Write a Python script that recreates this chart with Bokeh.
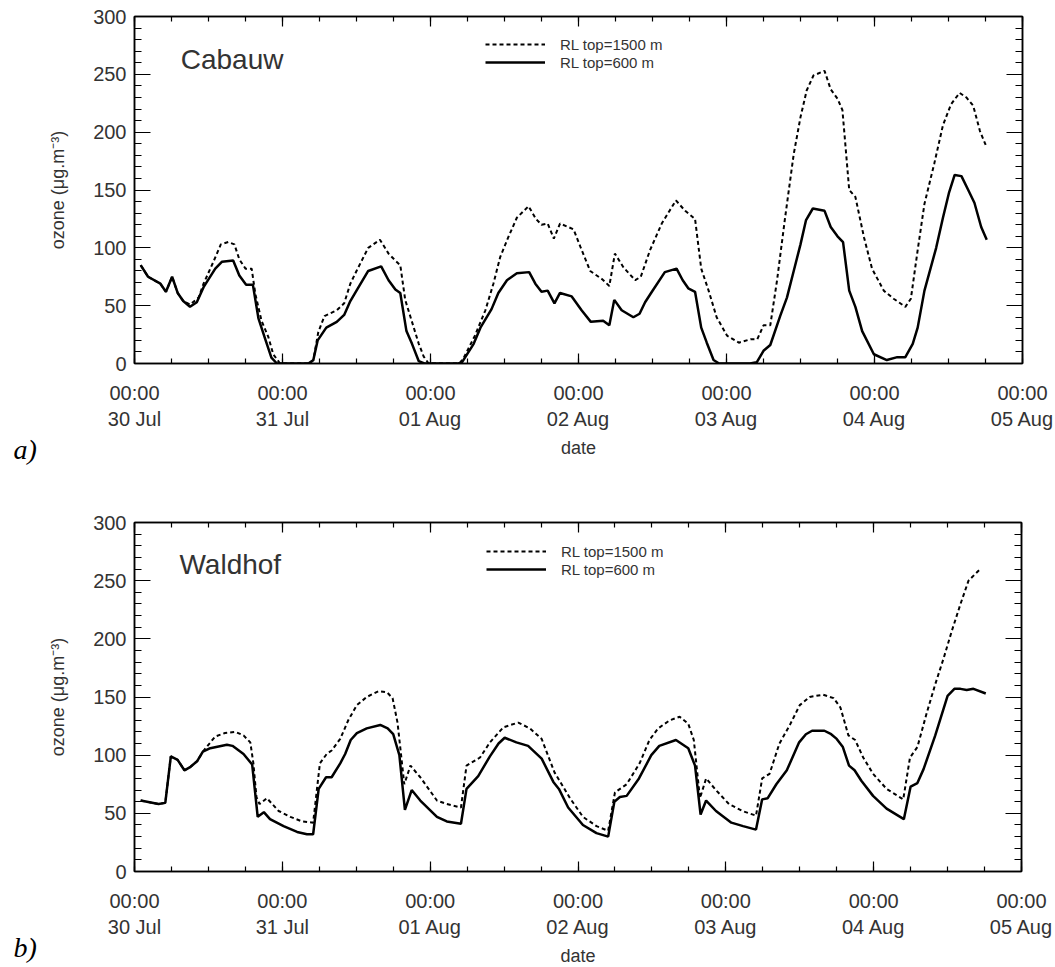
from bokeh.plotting import figure
from bokeh.models import (Range1d, FixedTicker, LinearAxis, Label, Legend, LegendItem,
                          CustomLabelingPolicy)
from bokeh.layouts import column
from bokeh.embed import file_html
from bokeh.resources import INLINE

# ---------------- data ----------------
day_labels = ["30 Jul", "31 Jul", "01 Aug", "02 Aug", "03 Aug", "04 Aug", "05 Aug"]
day_ticks = [0, 24, 48, 72, 96, 120, 144]          # hours since 30 Jul 00:00
y_ticks = [0, 50, 100, 150, 200, 250, 300]

# Cabauw, RL top = 600 m
cab600_t = [1.0, 2.2, 4.2, 5.1, 6.1, 7.0, 7.9, 9.0, 10.1, 11.2, 13.1, 14.2, 16.0, 17.0, 18.1, 19.2,
            20.1, 21.2, 22.2, 23.1, 28.2, 29.0, 29.7, 31.1, 32.8, 34.0, 35.0, 36.0, 37.9, 40.0, 41.2,
            42.3, 43.1, 44.1, 45.0, 46.1, 47.0, 52.5, 53.1, 55.0, 56.1, 57.9, 59.0, 60.4, 62.0, 64.0,
            65.0, 66.0, 67.0, 68.1, 69.0, 70.9, 72.5, 74.0, 76.0, 77.0, 77.8, 79.0, 80.9, 81.9, 82.8,
            83.9, 86.0, 87.9, 88.9, 89.8, 90.9, 91.9, 92.8, 93.9, 94.8, 99.8, 100.9, 102.0, 103.1,
            104.7, 105.8, 106.9, 108.0, 108.9, 110.0, 111.9, 112.9, 114.0, 114.9, 115.9, 116.9, 118.0,
            119.9, 122.0, 123.7, 125.0, 126.2, 127.0, 128.1, 130.0, 131.1, 132.1, 133.0, 134.1, 135.2,
            136.2, 137.3, 138.2]
cab600_v = [85, 75, 69, 62, 75, 61, 54, 49, 53, 66, 82, 88, 89, 76, 68, 68,
            39, 21, 5, 0, 0, 3, 20, 31, 36, 42, 54, 63, 80, 84, 72,
            64, 61, 28, 17, 2, 0, 0, 1, 17, 31, 47, 61, 72, 78, 79,
            69, 62, 63, 52, 61, 58, 46, 36, 37, 33, 55, 46, 40, 43, 53,
            62, 79, 82, 72, 65, 62, 31, 18, 3, 0, 0, 1, 11, 16,
            41, 57, 80, 103, 124, 134, 132, 118, 110, 105, 63, 49, 28,
            8, 3, 5.5, 5.5, 17, 31, 63, 100, 126, 148, 163, 162, 150,
            139, 118, 107]

# Cabauw, RL top = 1500 m
cab1500_t = [1.0, 2.2, 4.2, 5.1, 6.1, 7.0, 7.9, 9.0, 10.4, 11.2, 12.8, 14.0, 15.2, 16.2, 17.0, 18.0,
             19.0, 19.6, 20.6, 21.7, 22.5, 23.6, 28.4, 29.0, 29.8, 30.8, 32.8, 34.0, 35.0, 36.0, 37.9,
             39.8, 41.2, 42.3, 43.1, 43.9, 45.0, 46.1, 46.9, 47.7, 52.7, 53.4, 55.2, 56.9, 58.2, 59.3,
             60.6, 62.0, 63.9, 65.1, 66.0, 67.0, 68.0, 69.0, 71.2, 72.3, 73.9, 75.8, 77.0, 77.9, 79.3,
             81.2, 82.1, 83.6, 85.5, 87.8, 89.3, 90.9, 91.9, 93.1, 94.4, 96.1, 98.0, 99.9, 101.0, 102.0,
             103.1, 104.2, 105.5, 106.9, 108.0, 109.0, 110.1, 111.9, 112.9, 114.0, 114.8, 115.9, 116.9,
             118.3, 119.6, 121.5, 123.1, 125.0, 125.9, 127.0, 128.1, 129.7, 131.1, 132.4, 133.8, 134.9,
             136.0, 137.1, 138.1]
cab1500_v = [85, 75, 69, 62, 75, 61, 54, 51, 57, 69, 88, 103, 105, 103, 90, 82,
             82, 60, 37, 23, 8, 0, 0, 3, 27, 41, 46, 52, 69, 80, 100,
             107, 95, 89, 85, 55, 36, 17, 6, 0, 0, 5, 24, 46, 69, 92,
             109, 126, 136, 125, 120, 121, 108, 121, 116, 101, 80, 73, 67, 95, 83,
             72, 75, 98, 121, 141, 132, 125, 82, 63, 40, 24, 18, 21, 21, 33,
             33, 72, 126, 181, 213, 236, 249, 253, 237, 229, 219, 150, 144,
             109, 82, 63, 56, 49, 56, 98, 138, 173, 206, 224, 234, 230,
             223, 201, 188]

# Waldhof, RL top = 600 m
wal600_t = [1.0, 3.9, 5.0, 5.9, 7.0, 8.1, 9.1, 10.2, 11.1, 12.3, 15.0, 15.9, 17.7, 19.1, 20.0, 21.0,
            22.0, 24.2, 26.4, 28.0, 29.0, 29.9, 31.1, 32.0, 33.4, 34.2, 35.1, 36.1, 37.7, 39.9, 41.1,
            42.0, 43.0, 43.9, 45.0, 46.4, 49.1, 50.7, 53.0, 53.9, 55.8, 57.7, 59.1, 60.1, 62.0, 63.9,
            66.1, 68.0, 68.9, 70.4, 72.8, 75.0, 76.9, 77.9, 78.8, 79.9, 81.9, 83.9, 85.2, 87.9, 89.9,
            91.0, 91.9, 92.8, 94.4, 96.9, 98.8, 100.9, 101.9, 102.8, 104.2, 105.9, 107.9, 109.0, 110.0,
            112.0, 113.1, 114.0, 115.0, 116.0, 116.9, 118.0, 119.9, 122.1, 124.9, 126.0, 127.1, 128.1,
            130.0, 132.0, 133.1, 134.1, 135.1, 136.2, 138.2]
wal600_v = [61, 58, 59, 99, 96, 87, 90, 95, 103, 106, 109, 108, 101, 92, 47, 51,
            45, 39, 34, 32, 32, 71, 81, 81, 93, 101, 113, 119, 123, 126, 123,
            118, 100, 53, 70, 61, 47, 43, 41, 71, 82, 99, 110, 115, 111, 108,
            97, 77, 71, 55, 40, 33, 30, 60, 64, 65, 80, 100, 108, 113, 106,
            91, 49, 61, 52, 42, 39, 36, 62, 63, 75, 87, 111, 118, 121,
            121, 118, 114, 107, 91, 87, 78, 65, 54, 45, 73, 76, 88,
            117, 151, 157, 157, 156, 157, 153]

# Waldhof, RL top = 1500 m
wal1500_t = [1.0, 3.9, 5.0, 5.9, 7.0, 8.1, 9.1, 10.2, 11.1, 11.7, 13.1, 14.7, 16.4, 17.7, 18.8, 19.3,
             19.8, 20.3, 21.5, 23.4, 25.3, 27.2, 29.0, 30.1, 31.2, 32.0, 33.4, 34.7, 36.1, 37.7, 39.6,
             41.0, 41.9, 42.7, 43.8, 44.8, 46.4, 49.1, 50.7, 53.0, 53.9, 56.1, 57.7, 59.9, 62.3, 64.2,
             66.1, 68.2, 69.0, 70.7, 72.8, 75.0, 76.9, 78.0, 79.9, 82.0, 83.6, 85.0, 86.9, 88.5, 89.9,
             90.8, 91.8, 92.8, 94.4, 96.5, 98.7, 100.9, 101.9, 103.1, 104.7, 106.4, 108.0, 109.6, 111.8,
             113.5, 114.6, 115.9, 117.0, 118.3, 119.9, 122.1, 124.8, 125.9, 127.1, 128.6, 130.0, 131.4,
             132.7, 134.1, 135.4, 137.3]
wal1500_v = [61, 58, 59, 99, 96, 87, 90, 95, 103, 107, 116, 119, 120, 117, 111, 93,
             64, 58, 63, 52, 47, 43, 42, 93, 101, 104, 114, 130, 143, 150, 155,
             154, 149, 128, 75, 91, 81, 61, 58, 55, 91, 98, 111, 124, 128, 123,
             114, 85, 78, 63, 47, 39, 35, 68, 75, 93, 113, 123, 130, 133, 127,
             113, 63, 80, 70, 58, 52, 48, 80, 84, 110, 126, 143, 150, 152,
             149, 141, 117, 113, 98, 84, 71, 62, 98, 107, 136, 161, 184,
             207, 230, 250, 260]

FONT = "Liberation Sans"
TXT = "#333333"

HIDE_LABELS = """
try { for (let i = 0; i < indices.size; i++) { indices.unset(i) } } catch (e) {}
return indices
"""


def make_panel(name, tag, t1500, v1500, t600, v600, fw, fh, bl, br, bt, bb,
               name_pos, tag_pos, legend_loc):
    p = figure(frame_width=fw, frame_height=fh, min_border_left=bl, min_border_right=br,
               min_border_top=bt, min_border_bottom=bb, output_backend="svg",
               toolbar_location=None, x_range=Range1d(0, 144), y_range=Range1d(0, 300),
               background_fill_color="white", border_fill_color="white")
    p.grid.visible = False
    p.outline_line_color = "black"
    p.outline_line_width = 1.5

    xt = FixedTicker(ticks=day_ticks, minor_ticks=list(range(0, 145, 6)))
    yt = FixedTicker(ticks=y_ticks, minor_ticks=list(range(0, 301, 10)))

    bx = p.below[0]
    ly = p.left[0]
    bx.ticker = xt
    bx.major_label_overrides = {t: "00:00\n" + d for t, d in zip(day_ticks, day_labels)}
    bx.axis_label = "date"
    ly.ticker = yt
    ly.axis_label = "ozone (\u03bcg.m\u207b\u00b3)"

    # mirror axes (ticks only, no labels)
    top_ax = LinearAxis(ticker=xt)
    right_ax = LinearAxis(ticker=yt)
    p.add_layout(top_ax, "above")
    p.add_layout(right_ax, "right")

    for ax in (bx, ly, top_ax, right_ax):
        ax.axis_line_color = "black"
        ax.axis_line_width = 1.5
        ax.major_tick_line_color = "black"
        ax.minor_tick_line_color = "black"
        ax.major_tick_line_width = 1.2
        ax.minor_tick_line_width = 1.2
        ax.major_tick_out = 0
        ax.minor_tick_out = 0
        ax.major_label_text_font = FONT
        ax.major_label_text_color = TXT
        ax.major_label_text_font_size = "20px"
        ax.axis_label_text_font = FONT
        ax.axis_label_text_color = TXT
        ax.axis_label_text_font_style = "normal"
        ax.axis_label_text_font_size = "18px"
    for ax in (top_ax, right_ax):
        ax.major_label_text_font_size = "0px"
        ax.major_label_standoff = 0
        ax.major_label_policy = CustomLabelingPolicy(code=HIDE_LABELS)
    for ax in (bx, top_ax):
        ax.major_tick_in = 10
        ax.minor_tick_in = 5
    for ax in (ly, right_ax):
        ax.major_tick_in = 16
        ax.minor_tick_in = 7
    bx.major_label_standoff = 18
    bx.axis_label_standoff = 5
    ly.major_label_standoff = 8
    ly.axis_label_standoff = 22

    r1500 = p.line(t1500, v1500, line_color="black", line_width=2, line_dash="4 3")
    r600 = p.line(t600, v600, line_color="black", line_width=2.5)

    legend = Legend(items=[LegendItem(label="RL top=1500 m", renderers=[r1500]),
                           LegendItem(label="RL top=600 m", renderers=[r600])],
                    location=legend_loc, background_fill_alpha=0, border_line_alpha=0,
                    padding=0, margin=0, spacing=0, glyph_width=60, glyph_height=18,
                    label_height=18, label_standoff=15, label_text_font=FONT,
                    label_text_font_size="15px", label_text_color=TXT)
    p.add_layout(legend)

    p.add_layout(Label(x=name_pos[0], y=name_pos[1], text=name, text_font=FONT,
                       text_font_size="28px", text_color=TXT, text_baseline="middle"))
    # panel tag, outside the frame: placed in a side panel so it is not clipped
    p.add_layout(Label(x=tag_pos[0], y=tag_pos[1], x_units="canvas", y_units="canvas",
                       text=tag, text_font="Liberation Serif",
                       text_font_style="italic", text_font_size="28px", text_color="black",
                       text_baseline="top"), "left")
    return p


p1 = make_panel("Cabauw", "a)", cab1500_t, cab1500_v, cab600_t, cab600_v,
                888, 347, 131, 36, 16, 117, (7.5, 263), (13, 433), (351, 292))
p2 = make_panel("Waldhof", "b)", wal1500_t, wal1500_v, wal600_t, wal600_v,
                887, 349, 134, 34, 42, 96, (7.3, 264), (13, 451), (352, 293))

layout = column(p1, p2, spacing=0)
open("out.html", "w").write(file_html(layout, INLINE))
